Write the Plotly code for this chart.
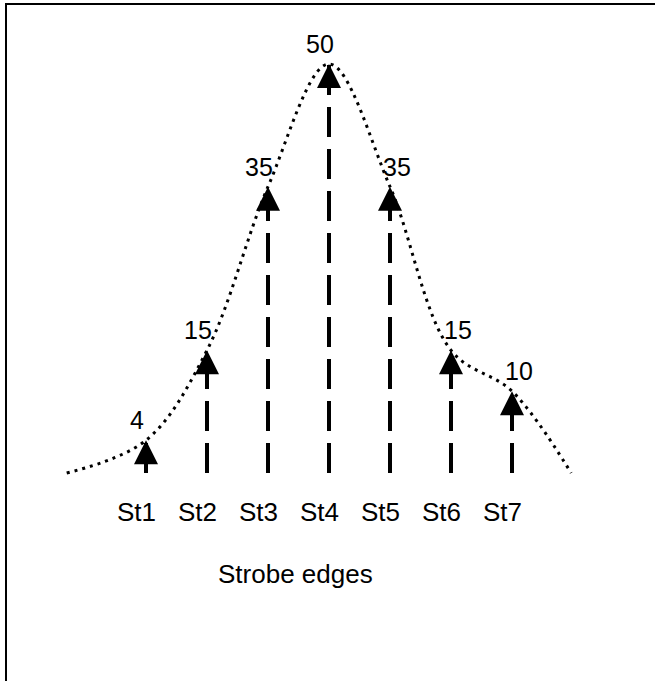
import plotly.graph_objects as go

# Strobe edge positions and the value carried by each edge
strobes = ["St1", "St2", "St3", "St4", "St5", "St6", "St7"]
values = [4, 15, 35, 50, 35, 15, 10]

# Envelope through the edge tips, with its two tails resting on the baseline
tail_x = [-0.3, 7.97]
tail_y = [0, 0]

axis_title = "Strobe edges"

FONT = "Arial, Liberation Sans, sans-serif"
pos = list(range(1, len(strobes) + 1))
peak = values.index(max(values))

fig = go.Figure()

# dotted envelope, smoothed by the library's spline
curve_x = [tail_x[0]] + pos + [tail_x[1]]
curve_y = [tail_y[0]] + values + [tail_y[1]]
fig.add_trace(go.Scatter(
    x=curve_x, y=curve_y, mode="lines",
    line=dict(color="black", width=3, dash="3px,5px", shape="spline", smoothing=1.0),
    hoverinfo="skip", showlegend=False,
))

# dashed shafts rising from the baseline to each value
for xi, v in zip(pos, values):
    fig.add_trace(go.Scatter(
        x=[xi, xi], y=[0, v], mode="lines",
        line=dict(color="black", width=4, dash="30px,12px"),
        hoverinfo="skip", showlegend=False,
    ))

# arrow heads, tip on the value
fig.add_trace(go.Scatter(
    x=pos, y=values, mode="markers",
    marker=dict(symbol="arrow-up", size=24, color="black", line=dict(width=0)),
    hoverinfo="skip", showlegend=False,
))

annotations = []
for i, (xi, v) in enumerate(zip(pos, values)):
    annotations.append(dict(
        x=xi, y=v, xref="x", yref="y", text=str(v), showarrow=False,
        xanchor="center", yanchor="bottom", xshift=-9 if i <= peak else 7, yshift=4,
        font=dict(family=FONT, size=25, color="black"),
    ))
    annotations.append(dict(
        x=xi, y=0, xref="x", yref="y", text=strobes[i], showarrow=False,
        xanchor="center", yanchor="top", xshift=-10, yshift=-22,
        font=dict(family=FONT, size=26, color="black"),
    ))
annotations.append(dict(
    x=295 / 655, y=1 - 574 / 681, xref="paper", yref="paper", text=axis_title,
    showarrow=False, xanchor="center", yanchor="middle",
    font=dict(family=FONT, size=26, color="black"),
))

fig.update_layout(
    width=655, height=681, autosize=False,
    margin=dict(l=0, r=0, t=0, b=0),
    paper_bgcolor="white", plot_bgcolor="white",
    xaxis=dict(range=[1 - 146 / 61, 1 + (655 - 146) / 61], visible=False, fixedrange=True),
    yaxis=dict(range=[-(681 - 473) / 8.18, 473 / 8.18], visible=False, fixedrange=True),
    annotations=annotations,
    shapes=[dict(
        type="rect", xref="paper", yref="paper",
        x0=6 / 655, y0=-0.2, x1=1.2, y1=1 - 4 / 681,
        line=dict(color="black", width=2), fillcolor="rgba(0,0,0,0)", layer="above",
    )],
)

fig.write_html("out.html")
